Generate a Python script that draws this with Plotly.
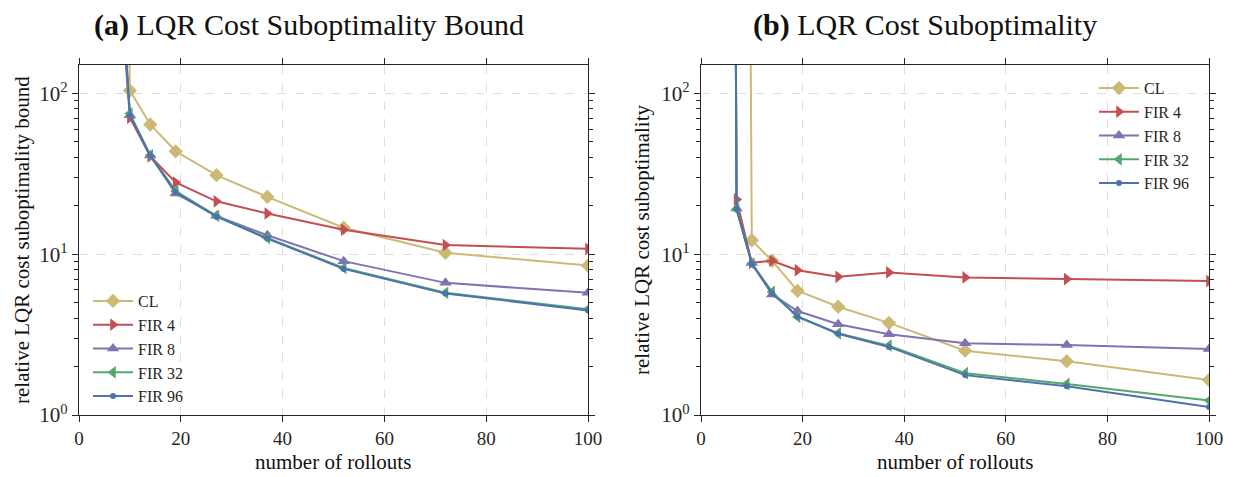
import plotly.graph_objects as go
import math

# ---------------- data ----------------
series_names = ["CL", "FIR 4", "FIR 8", "FIR 32", "FIR 96"]

rollouts_a = [7, 10, 14, 19, 27, 37, 52, 72, 100]
cl_a = [1e8, 104, 64, 43.6, 31, 22.7, 14.6, 10.2, 8.5]
fir4_a = [1300, 70.5, 40.6, 27.9, 21.3, 17.9, 14.2, 11.4, 10.8]
fir8_a = [1800, 73, 41, 23.8, 17.3, 13.1, 9.05, 6.63, 5.75]
fir32_a = [2000, 74.8, 41.2, 24.7, 17.3, 12.6, 8.2, 5.75, 4.55]
fir96_a = [2200, 73, 41, 24.3, 17.1, 12.5, 8.1, 5.7, 4.47]

rollouts_b = [5, 7, 10, 14, 19, 27, 37, 52, 72, 100]
cl_b = [None, 1e17, 12.2, 9.1, 5.92, 4.71, 3.74, 2.51, 2.16, 1.65]
fir4_b = [1e15, 21.9, 8.83, 9.1, 7.95, 7.23, 7.7, 7.17, 7.0, 6.8]
fir8_b = [1e15, 19.2, 8.8, 5.62, 4.43, 3.67, 3.18, 2.79, 2.72, 2.57]
fir32_b = [1e15, 19.0, 8.75, 5.83, 4.08, 3.22, 2.70, 1.82, 1.56, 1.23]
fir96_b = [1e15, 19.2, 8.7, 5.7, 4.1, 3.2, 2.65, 1.77, 1.51, 1.12]

x_ticks = [0, 20, 40, 60, 80, 100]
y_ticks = [1, 10, 100]
y_ticktext = ["10<sup>0</sup>", "10<sup>1</sup>", "10<sup>2</sup>"]

# ---------------- style ----------------
colors = ["#CCB974", "#C44E52", "#8172B2", "#55A868", "#4C72B0"]
symbols = ["diamond", "triangle-right", "triangle-up", "triangle-left", "circle"]
msizes = [11, 11, 11, 11, 6]
FONT = "Liberation Serif"
INK = "#262626"

# page body has an 8px margin: size the figure so it fills the window exactly
OFF = 8
W, H = 1237 - OFF, 477 - OFF


def px(x):
    return (x - OFF) / W


def py(y):
    return 1 - (y - OFF) / H


fig = go.Figure()

panels = [
    ("x", "y", "legend", rollouts_a, [cl_a, fir4_a, fir8_a, fir32_a, fir96_a]),
    ("x2", "y2", "legend2", rollouts_b, [cl_b, fir4_b, fir8_b, fir32_b, fir96_b]),
]
for xa, ya, lg, xs, ys_list in panels:
    for name, ys, c, s, ms in zip(series_names, ys_list, colors, symbols, msizes):
        fig.add_trace(go.Scatter(
            x=xs, y=ys, name=name, mode="lines+markers",
            xaxis=xa, yaxis=ya, legend=lg,
            line=dict(color=c, width=2),
            marker=dict(symbol=s, size=ms, color=c, line=dict(width=0)),
            cliponaxis=True,
        ))


def xaxis(domain, anchor):
    return dict(
        domain=domain, anchor=anchor, range=[0, 100], automargin=False,
        tickvals=x_ticks, ticks="outside", ticklen=6, tickwidth=1.2, tickcolor=INK,
        showline=True, linecolor=INK, linewidth=1.3, mirror="allticks",
        showgrid=True, gridcolor="#dedede", griddash="dash", gridwidth=1,
        zeroline=False, tickfont=dict(family=FONT, size=19, color=INK),
    )


def yaxis(anchor):
    return dict(
        domain=[py(415), py(65)], anchor=anchor, type="log",
        range=[0, math.log10(150)], automargin=False,
        tickvals=y_ticks, ticktext=y_ticktext,
        ticks="outside", ticklen=6, tickwidth=1.2, tickcolor=INK,
        minor=dict(ticks="outside", ticklen=3.5, tickwidth=1, tickcolor=INK,
                   dtick="D1", showgrid=False),
        showline=True, linecolor=INK, linewidth=1.3, mirror="allticks",
        showgrid=True, gridcolor="#dedede", griddash="dash", gridwidth=1,
        zeroline=False, tickfont=dict(family=FONT, size=21, color=INK),
    )


legend_common = dict(
    bgcolor="rgba(255,255,255,0)", borderwidth=0,
    font=dict(family=FONT, size=16, color=INK),
    itemwidth=40, tracegroupgap=0,
)

fig.update_layout(
    width=W, height=H,
    margin=dict(l=0, r=0, t=0, b=0, autoexpand=False),
    paper_bgcolor="white", plot_bgcolor="white",
    showlegend=True,
    xaxis=xaxis([px(79), px(588)], "y"),
    yaxis=yaxis("x"),
    xaxis2=xaxis([px(701), px(1209)], "y2"),
    yaxis2=yaxis("x2"),
    legend=dict(x=px(88), y=py(284), xanchor="left", yanchor="top", **legend_common),
    legend2=dict(x=px(1094), y=py(71), xanchor="left", yanchor="top", **legend_common),
    font=dict(family=FONT, color=INK),
)

annos = [
    dict(text="<b>(a)</b> LQR Cost Suboptimality Bound", x=px(309), y=py(25), size=30, angle=0),
    dict(text="<b>(b)</b> LQR Cost Suboptimality", x=px(925), y=py(25), size=30, angle=0),
    dict(text="number of rollouts", x=px((79 + 588) / 2), y=py(462), size=21, angle=0),
    dict(text="number of rollouts", x=px((701 + 1209) / 2), y=py(462), size=21, angle=0),
    dict(text="relative LQR cost suboptimality bound", x=px(22), y=py(240), size=21, angle=-90),
    dict(text="relative LQR cost suboptimality", x=px(642), y=py(240), size=21, angle=-90),
]
for a in annos:
    fig.add_annotation(
        text=a["text"], x=a["x"], y=a["y"], xref="paper", yref="paper",
        xanchor="center", yanchor="middle", showarrow=False, textangle=a["angle"],
        font=dict(family=FONT, size=a["size"], color="#111111"),
    )

fig.write_html("out.html")
